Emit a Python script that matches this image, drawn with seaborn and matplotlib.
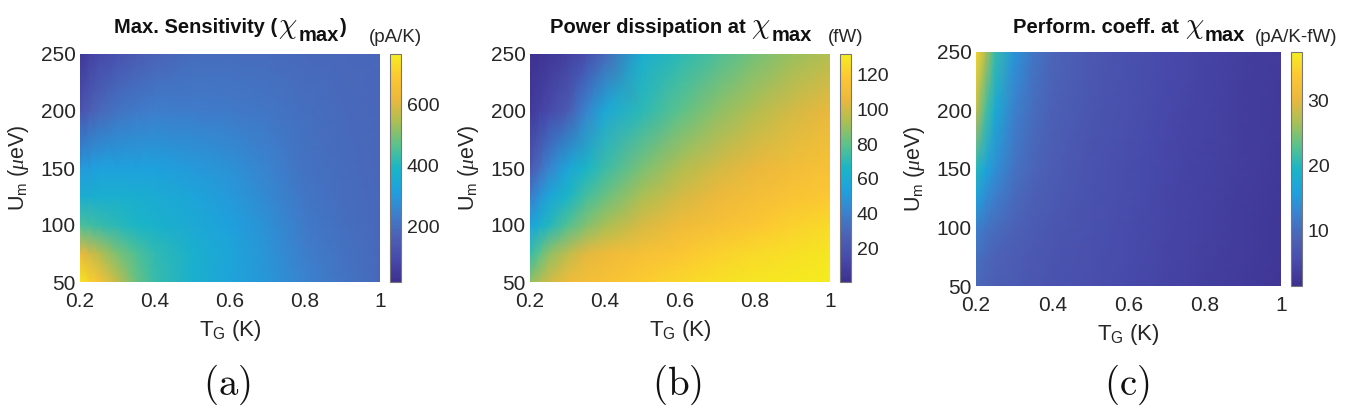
import numpy as np
import matplotlib
matplotlib.use("Agg")
import matplotlib.pyplot as plt
import seaborn as sns

# ---- grid (axes coordinates of the sampled values) ----
T_G = [0.2, 0.225, 0.25, 0.3, 0.35, 0.4, 0.5, 0.6, 0.7, 0.8, 0.9, 1.0]   # K
U_m = [50, 75, 100, 125, 150, 200, 250]                                  # ueV

# ---- (a) Max. sensitivity (pA/K), rows = U_m, cols = T_G ----
sens = [
    [750, 710, 670, 570, 480, 430, 375, 330, 295, 250, 215, 190],
    [620, 590, 560, 500, 455, 420, 375, 335, 290, 240, 210, 190],
    [450, 440, 430, 410, 395, 380, 350, 320, 280, 232, 205, 188],
    [360, 365, 368, 370, 365, 355, 335, 305, 265, 222, 200, 186],
    [300, 310, 318, 322, 322, 320, 305, 285, 250, 212, 195, 184],
    [130, 160, 185, 215, 232, 240, 238, 232, 222, 205, 192, 183],
    [40,  70,  95,  120, 150, 175, 195, 198, 195, 190, 186, 183],
]
# ---- (b) Power dissipation (fW) ----
power = [
    [88, 95, 100, 108, 112, 115, 120, 124, 127, 129, 130, 131],
    [72, 80, 88, 97, 104, 108, 114, 118, 122, 125, 127, 129],
    [55, 62, 68, 78, 86, 92, 102, 109, 114, 118, 122, 125],
    [38, 48, 56, 66, 75, 82, 93, 101, 107, 112, 116, 119],
    [22, 32, 42, 56, 66, 73, 85, 94, 101, 106, 111, 115],
    [6, 10, 14, 24, 42, 58, 70, 80, 88, 95, 101, 106],
    [2, 3, 5, 9, 16, 30, 62, 70, 77, 84, 90, 95],
]
# ---- (c) Performance coefficient (pA/K-fW) ----
perf = [
    [9.5, 8.8, 8.2, 7.5, 7.0, 6.5, 5.8, 5.0, 4.3, 3.6, 3.0, 2.3],
    [10.5, 9.5, 8.8, 8.0, 7.3, 6.8, 6.0, 5.2, 4.4, 3.7, 3.1, 2.4],
    [12.5, 11.0, 10.0, 8.8, 7.8, 7.1, 6.2, 5.3, 4.5, 3.8, 3.2, 2.5],
    [16.0, 13.5, 12.0, 9.8, 8.4, 7.5, 6.4, 5.5, 4.6, 3.9, 3.3, 2.6],
    [20.0, 16.5, 14.0, 10.8, 9.0, 7.9, 6.6, 5.6, 4.7, 4.0, 3.4, 2.7],
    [28.0, 22.0, 17.5, 12.5, 10.0, 8.5, 7.0, 5.9, 4.9, 4.2, 3.5, 2.9],
    [35.0, 27.0, 21.0, 14.5, 11.0, 9.0, 7.3, 6.1, 5.1, 4.3, 3.6, 3.0],
]

x_ticks = [0.2, 0.4, 0.6, 0.8, 1.0]
x_ticklabels = ["0.2", "0.4", "0.6", "0.8", "1"]
y_ticks = [50, 100, 150, 200, 250]
cbar_ticks_a = [200, 400, 600]
cbar_ticks_b = [20, 40, 60, 80, 100, 120]
cbar_ticks_c = [10, 20, 30]

title_heads = ["Max. Sensitivity (", "Power dissipation at", "Perform. coeff. at"]
title_tails = [")", "", ""]
units = ["(pA/K)", "(fW)", "(pA/K-fW)"]
panel_tags = ["(a)", "(b)", "(c)"]

# ---- style ----
sns.set_theme(style="white")
plt.rcParams["font.family"] = ["Liberation Sans", "DejaVu Sans"]
plt.rcParams["mathtext.fontset"] = "custom"
plt.rcParams["mathtext.rm"] = "Liberation Sans"
plt.rcParams["mathtext.bf"] = "Liberation Sans:bold"
plt.rcParams["mathtext.it"] = "Liberation Serif:italic"

parula_anchor = [(0.24, 0.19, 0.56), (0.28, 0.29, 0.67), (0.30, 0.38, 0.71),
                 (0.24, 0.50, 0.80), (0.12, 0.63, 0.87), (0.10, 0.71, 0.78),
                 (0.35, 0.76, 0.55), (0.66, 0.75, 0.33), (0.92, 0.72, 0.24),
                 (0.99, 0.78, 0.20), (0.96, 0.93, 0.12)]
cmap = sns.blend_palette(parula_anchor, n_colors=256, as_cmap=True)

W, H = 1365, 419
fig = plt.figure(figsize=(W / 100, H / 100), dpi=100)
renderer = fig.canvas.get_renderer()


def fx(px):
    return px / W


def fy(px):
    return 1 - px / H


def draw_pieces(pieces, x_center_px, baseline_px):
    """pieces: (text, kwargs, dy_px, gap_px_after)"""
    made = []
    for s, kw, dy, gap in pieces:
        t = fig.text(0, 0, s, ha="left", va="baseline", **kw)
        made.append((t, dy, gap))
    widths = [t.get_window_extent(renderer).width for t, _, _ in made]
    total = sum(widths) + sum(g for _, _, g in made[:-1])
    x = x_center_px - total / 2
    for (t, dy, gap), w in zip(made, widths):
        t.set_position((fx(x), fy(baseline_px + dy)))
        x += w + gap


panels = [
    dict(z=sens, vmin=20, vmax=765, cb=cbar_ticks_a, ax=(80, 380, 54, 282), cax=(390, 401),
         title_x=230, unit_x=395, gap=1, tag_x=227),
    dict(z=power, vmin=0.5, vmax=132, cb=cbar_ticks_b, ax=(530, 830, 54, 282), cax=(840, 851),
         title_x=681, unit_x=846, gap=6, tag_x=677),
    dict(z=perf, vmin=1.4, vmax=37.4, cb=cbar_ticks_c, ax=(976, 1281, 52, 286), cax=(1291, 1302),
         title_x=1129, unit_x=1296, gap=6, tag_x=1127),
]

tick_col = "#262626"
title_col = "#111111"
for i, p in enumerate(panels):
    l, r, t, b = p["ax"]
    ax = fig.add_axes([fx(l), fy(b), fx(r - l), (b - t) / H])
    mesh = ax.pcolormesh(T_G, U_m, np.array(p["z"]), shading="gouraud", cmap=cmap,
                         vmin=p["vmin"], vmax=p["vmax"], rasterized=True)
    ax.set_xlim(0.2, 1.0)
    ax.set_ylim(50, 250)
    ax.set_xticks(x_ticks)
    ax.set_xticklabels(x_ticklabels)
    ax.set_yticks(y_ticks)
    ax.tick_params(axis="x", labelsize=15, colors=tick_col, length=0, pad=7)
    ax.tick_params(axis="y", labelsize=15, colors=tick_col, length=0, pad=3)
    for s in ax.spines.values():
        s.set_visible(False)
    ax.set_xlabel(r"T$_{\mathrm{G}}$ (K)", fontsize=16, color=tick_col, labelpad=5)
    ax.set_ylabel(r"U$_{\mathrm{m}}$ ($\mu$eV)", fontsize=15.5, color=tick_col, labelpad=7)

    c0, c1 = p["cax"]
    cax = fig.add_axes([fx(c0), fy(b), fx(c1 - c0), (b - t) / H])
    cb = fig.colorbar(mesh, cax=cax, ticks=p["cb"])
    cb.outline.set_linewidth(0.8)
    cb.outline.set_edgecolor("#777777")
    cax.tick_params(labelsize=14, colors=tick_col, direction="in", length=3, width=0.6, pad=4)

    pieces = [
        (title_heads[i], dict(fontsize=14.5, fontweight="bold", color=title_col), 0, p["gap"]),
        (r"$\chi$", dict(fontsize=21, math_fontfamily="cm", color=title_col), 0, 1),
        ("max", dict(fontsize=14.5, fontweight="bold", color=title_col), 8, 1),
    ]
    if title_tails[i]:
        pieces.append((title_tails[i], dict(fontsize=14.5, fontweight="bold", color=title_col), 0, 0))
    draw_pieces(pieces, p["title_x"], 33)
    fig.text(fx(p["unit_x"]), fy(42), units[i], ha="center", va="baseline",
             fontsize=13.5, color=tick_col)
    fig.text(fx(p["tag_x"]), fy(385), r"$\mathrm{" + panel_tags[i] + "}$",
             ha="center", va="center", fontsize=28, math_fontfamily="cm", color=title_col)

fig.savefig("out.png", dpi=100)
